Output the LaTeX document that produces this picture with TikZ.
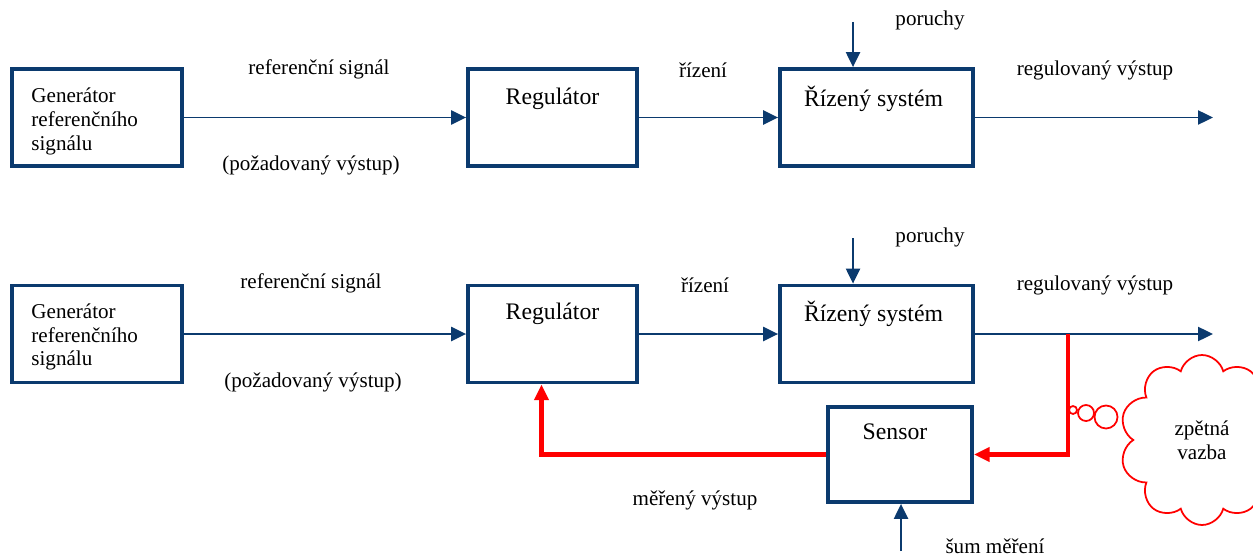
\documentclass[tikz,border=0pt]{standalone}
\usepackage{fontspec}
\setmainfont{Liberation Serif}
\usetikzlibrary{arrows.meta, positioning, shapes.symbols, calc}
\definecolor{navy}{HTML}{0B3A6E}
\definecolor{fbred}{HTML}{FF0000}
\tikzset{
  blok/.style={rectangle, draw=navy, line width=2.2pt, minimum width=3.4cm,
    minimum height=1.94cm, inner sep=0pt},
  titul/.style={font=\fontsize{13.5}{16}\selectfont, inner sep=0pt},
  popis/.style={font=\fontsize{12}{13.6}\selectfont, inner sep=0pt},
  gentext/.style={popis, align=left},
  sipka/.style={-{Triangle[length=8.5pt, width=8pt]}, line width=1.1pt, navy},
  zpet/.style={-{Triangle[length=9pt, width=8pt]}, line width=2.3pt, fbred},
  mrak/.style={cloud, cloud puffs=10, cloud ignores aspect, draw=fbred, line width=1pt,
    minimum width=3.3cm, minimum height=3.4cm, align=center, popis},
  bublina/.style={draw=fbred, line width=1pt},
}
\begin{document}
\begin{tikzpicture}[x=0.02cm, y=-0.02cm]
\useasboundingbox (0,0) rectangle (1253,557);

% otevrena smycka
\node[blok] (gen1) at (97,117.5) {};
\node[gentext, right=0.42cm of gen1.west, yshift=-0.08cm] {Generátor\\referenčního\\signálu};
\node[blok, minimum width=3.38cm] (reg1) at (552.5,117.5) {};
\node[titul] at ($(reg1.north)+(0,32)$) {Regulátor};
\node[blok, minimum width=3.86cm] (sys1) at (876.5,117.5) {};
\node[titul] at ($(sys1.north)+(-3,32)$) {Řízený systém};
\coordinate (por1) at (853,22);
\coordinate (out1) at (1213,117.5);

\draw[sipka] (gen1.east) -- (reg1.west);
\draw[sipka] (reg1.east) -- (sys1.west);
\draw[sipka] (sys1.east) -- (out1);
\draw[sipka] (por1) -- (por1 |- sys1.north);

\node[popis] at (319,69) {referenční signál};
\node[popis] at (311,165) {(požadovaný výstup)};
\node[popis] at (703,70) {řízení};
\node[popis] at (930,20) {poruchy};
\node[popis] at (1095,70) {regulovaný výstup};

% uzavrena smycka
\node[blok] (gen2) at (97,334) {};
\node[gentext, right=0.42cm of gen2.west, yshift=-0.06cm] {Generátor\\referenčního\\signálu};
\node[blok, minimum width=3.38cm] (reg2) at (552.5,334) {};
\node[titul] at ($(reg2.north)+(0,30)$) {Regulátor};
\node[blok, minimum width=3.86cm] (sys2) at (876.5,334) {};
\node[titul] at ($(sys2.north)+(-3,30)$) {Řízený systém};
\node[blok, minimum width=2.88cm, minimum height=1.9cm] (sen) at (900,454.5) {};
\node[titul] at ($(sen.north)+(-5,27)$) {Sensor};
\coordinate (por2) at (853,238);
\coordinate (out2) at (1213,334);
\coordinate (tap) at (1068,334);
\coordinate (sum) at (901,551);
\coordinate (fbin) at ($(reg2.south)+(-11,0)$);

\draw[sipka] (gen2.east) -- (reg2.west);
\draw[sipka] (reg2.east) -- (sys2.west);
\draw[sipka] (sys2.east) -- (out2);
\draw[sipka] (por2) -- (por2 |- sys2.north);
\draw[sipka] (sum) -- (sum |- sen.south);
\draw[zpet] (tap) -- (tap |- sen.east) -- (sen.east);
\draw[zpet] (sen.west) -- (fbin |- sen.west) -- (fbin);

\node[popis] at (311,283) {referenční signál};
\node[popis] at (313,382) {(požadovaný výstup)};
\node[popis] at (705,285) {řízení};
\node[popis] at (930,237) {poruchy};
\node[popis] at (1095,285) {regulovaný výstup};
\node[popis] at (695,500) {měřený výstup};
\node[popis] at (995,546) {šum měření};

% bublina
\node[mrak] (mrak) at (1202,440) {zpětná\\vazba};
\draw[bublina] (1073,410) circle (0.08cm);
\draw[bublina] (1086,413) circle (0.16cm);
\draw[bublina] (1106,417) circle (0.23cm);
\end{tikzpicture}
\end{document}
